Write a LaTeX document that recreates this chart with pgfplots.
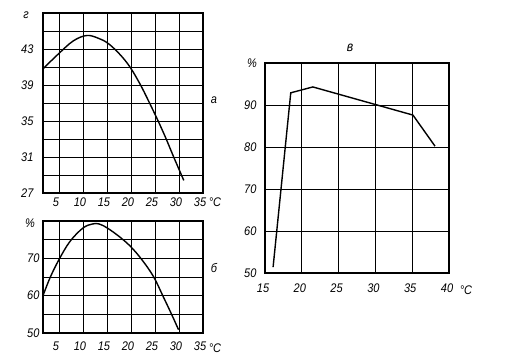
\documentclass[border=0pt]{standalone}
\usepackage{fontspec}
\setmainfont{Liberation Sans}[FakeStretch=0.88]
\usepackage{pgfplots}
\pgfplotsset{compat=1.18}
\pgfplotsset{
  panel/.style={
    scale only axis,
    axis line style={line width=1.1pt},
    grid=both,
    major grid style={black, line width=0.7pt},
    minor grid style={black, line width=0.7pt},
    major tick length=0pt, minor tick length=0pt,
    tick style={draw=none},
    /pgf/number format/assume math mode=true,
    ticklabel style={font=\fontsize{12.5}{14}\selectfont\itshape},
    clip=false,
  },
  curve/.style={black, line width=1.4pt, no markers},
}
\begin{document}
\begin{tikzpicture}[x=1pt,y=1pt]
\path (0,0) rectangle (509,362);
% panel a
\begin{axis}[panel, at={(43pt,169pt)}, anchor=south west,
  width=160pt, height=180pt,
  xmin=1.7, xmax=35, ymin=27, ymax=47,
  xtick={5,10,...,35}, ytick={27,31,35,39,43}, minor ytick={29,33,37,41,45},
  yticklabel style={xshift=-6pt}, xticklabel style={xshift=-3pt, yshift=-1pt}]
\addplot[curve, smooth, tension=0.6] coordinates {
 (1.7,40.8) (5,42.5) (8,43.9) (10.8,44.5) (13.2,44.2) (15.3,43.6)
 (17.7,42.4) (19.8,41.0) (21.9,39.1) (23.6,37.3) (25.4,35.3) (27.1,33.3)
 (28.9,31.0) (31,28.4)};
\end{axis}
% panel b
\begin{axis}[panel, at={(43pt,29pt)}, anchor=south west,
  width=160pt, height=112pt,
  xmin=1.7, xmax=35, ymin=50, ymax=80,
  xtick={5,10,...,35}, ytick={50,60,70}, minor ytick={55,65,75},
  yticklabel style={xshift=0pt}, xticklabel style={xshift=-3pt, yshift=-5pt}]
\addplot[curve, smooth, tension=0.6] coordinates {
 (1.7,60) (3.2,64.9) (5,69.6) (7.3,74.5) (10,78.1) (12,79.2) (13.4,79.2)
 (15.1,78.1) (17.5,75.9) (19.9,73.2) (22.3,69.6) (24.7,65.1) (26.7,59.8)
 (28.5,54.9) (29.9,50.9)};
\end{axis}
% panel c
\begin{axis}[panel, at={(265pt,89pt)}, anchor=south west,
  width=184pt, height=210pt,
  xmin=15, xmax=40, ymin=50, ymax=100,
  xtick={15,20,...,40}, ytick={50,60,...,90}, grid=major,
  yticklabel style={xshift=-5pt}, xticklabel style={xshift=-2pt, yshift=-7pt},
  extra y ticks={60,90}, extra y tick labels={},
  extra y tick style={grid style={black, line width=1.3pt}}]
\addplot[curve, sharp plot] coordinates {
 (16.1,51.4) (18.5,92.9) (21.5,94.3) (35.1,87.6) (38.1,80.2)};
\end{axis}
\begin{scope}[font=\fontsize{12.5}{14}\selectfont\itshape]
\node at (26,347) {г};
\node at (30,139) {\%};
\node at (252,299) {\%};
\node at (214,262) {а};
\node at (214,94) {б};
\node[font=\fontsize{14}{16}\selectfont\itshape] at (350,314) {в};
\node at (215,160) {°C};
\node at (215,14) {°C};
\node at (466,72) {°C};
\end{scope}
\end{tikzpicture}
\end{document}
